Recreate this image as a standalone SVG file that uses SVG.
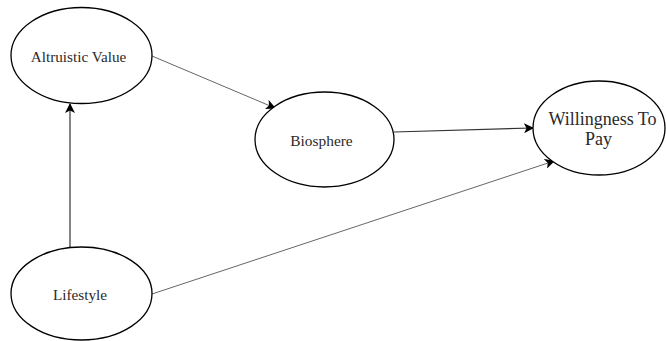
<svg xmlns="http://www.w3.org/2000/svg" width="666" height="341" viewBox="0 0 666 341">
<style>
.node ellipse{fill:#fff;stroke:#000;stroke-width:1.3}
.node text{fill:#2a2a2a;text-anchor:middle}
.edge{stroke:#333;stroke-width:1.2;fill:none;marker-end:url(#ah)}
.thin{stroke:#666;stroke-width:1}
</style>
<defs>
<marker id="ah" markerWidth="10" markerHeight="10" refX="9" refY="5" orient="auto" markerUnits="userSpaceOnUse">
<path d="M0,0 L10,5 L0,10 L2.5,5 Z" fill="#000"/>
</marker>
</defs>
<rect width="666" height="341" fill="#fff"/>
<g id="connectors">
<line class="edge thin" x1="152" y1="56" x2="275" y2="108"/>
<line class="edge" x1="70" y1="247" x2="70" y2="104"/>
<line class="edge" x1="394" y1="132" x2="533" y2="128"/>
<line class="edge thin" x1="152" y1="294" x2="554" y2="161"/>
</g>
<g font-family="Liberation Serif, DejaVu Serif, serif">
<g id="altruistic" class="node">
<ellipse cx="81.5" cy="55.5" rx="70.5" ry="48"/>
<text x="78.5" y="62" font-size="15.2">Altruistic Value</text>
</g>
<g id="biosphere" class="node">
<ellipse cx="324.5" cy="139.5" rx="69.5" ry="47.5"/>
<text x="321.5" y="146" font-size="15.4">Biosphere</text>
</g>
<g id="wtp" class="node">
<ellipse cx="599" cy="128" rx="66" ry="47"/>
<text x="602.5" y="125" font-size="18">Willingness To</text>
<text x="598.5" y="145" font-size="18">Pay</text>
</g>
<g id="lifestyle" class="node">
<ellipse cx="81.5" cy="293.5" rx="70.5" ry="46.5"/>
<text x="80" y="300" font-size="15.2">Lifestyle</text>
</g>
</g>
</svg>
